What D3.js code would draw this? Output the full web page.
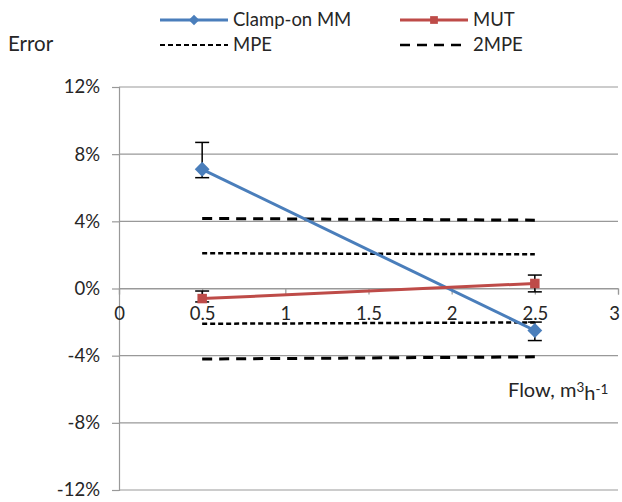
<!DOCTYPE html>
<html><head><meta charset="utf-8">
<script src="https://cdn.jsdelivr.net/npm/d3@7"></script>
<style>
body{margin:0;background:#fff;}
text{font-family:Lato,"Open Sans",sans-serif;fill:#262626;}
</style></head>
<body><svg id="c" width="622" height="502"></svg>
<script>
const flows = [0.5, 2.5];
const clampVals = [0.071, -0.025];
const clampErrUp = [0.016, 0.005];
const clampErrDown = [0.005, 0.006];
const mutVals = [-0.006, 0.003];
const mutErrUp = [0.0045, 0.005];
const mutErrDown = [0.002, 0.005];
const mpeUpper = [0.021, 0.0204];
const mpeLower = [-0.021, -0.0202];
const mpe2Upper = [0.0417, 0.0407];
const mpe2Lower = [-0.042, -0.0407];
const yTicks = [-0.12, -0.08, -0.04, 0, 0.04, 0.08, 0.12];
const yTickLabels = ["-12%", "-8%", "-4%", "0%", "4%", "8%", "12%"];
const xTicks = [0, 0.5, 1, 1.5, 2, 2.5, 3];
const xTickLabels = ["0", "0.5", "1", "1.5", "2", "2.5", "3"];

const svg = d3.select("#c");
const x = d3.scaleLinear().domain([0, 3]).range([119, 618]);
const y = d3.scaleLinear().domain([-0.12, 0.12]).range([490, 87]);
const FS = 18.5;

// gridlines
svg.append("g").selectAll("line").data(yTicks).join("line")
  .attr("x1", x(0)).attr("x2", x(3)).attr("y1", d => y(d)).attr("y2", d => y(d))
  .attr("stroke", "#999").attr("stroke-width", 1.2);

// y axis
const ya = svg.append("g").attr("transform", `translate(${x(0)},0)`)
  .call(d3.axisLeft(y).tickValues(yTicks).tickFormat((d, i) => yTickLabels[i]).tickSize(7).tickPadding(12));
ya.select(".domain").attr("stroke", "#999").attr("stroke-width", 1.2);
ya.selectAll(".tick line").attr("stroke", "#999").attr("stroke-width", 1.2);
ya.selectAll("text").style("font-size", FS + "px").attr("fill", "#262626").style("font-family", "Lato");

// x axis
const xa = svg.append("g").attr("transform", `translate(0,${y(0)})`)
  .call(d3.axisBottom(x).tickValues(xTicks).tickFormat((d, i) => xTickLabels[i]).tickSize(6).tickPadding(12));
xa.select(".domain").attr("stroke", "#999").attr("stroke-width", 1.2);
xa.selectAll(".tick line").attr("stroke", "#999").attr("stroke-width", 1.2);
xa.selectAll("text").style("font-size", FS + "px").attr("fill", "#262626").style("font-family", "Lato")
  .attr("dx", (d, i) => i === xTicks.length - 1 ? -4 : 0);

const line = d3.line().x((d, i) => x(flows[i])).y(d => y(d));

// MPE lines
function dashLine(vals, dash, w) {
  svg.append("path").attr("d", line(vals)).attr("fill", "none")
    .attr("stroke", "#000").attr("stroke-width", w).attr("stroke-dasharray", dash);
}
dashLine(mpeUpper, "5,3", 2.5);
dashLine(mpeLower, "5,3", 2.5);
dashLine(mpe2Upper, "10,7", 3);
dashLine(mpe2Lower, "10,7", 3);

// error bars
function errBars(vals, up, down) {
  const g = svg.append("g").attr("stroke", "#000").attr("stroke-width", 1.5);
  vals.forEach((v, i) => {
    const cx = x(flows[i]);
    g.append("line").attr("x1", cx).attr("x2", cx).attr("y1", y(v + up[i])).attr("y2", y(v - down[i]));
    g.append("line").attr("x1", cx - 7).attr("x2", cx + 7).attr("y1", y(v + up[i])).attr("y2", y(v + up[i]));
    g.append("line").attr("x1", cx - 7).attr("x2", cx + 7).attr("y1", y(v - down[i])).attr("y2", y(v - down[i]));
  });
}
errBars(clampVals, clampErrUp, clampErrDown);
errBars(mutVals, mutErrUp, mutErrDown);

const BLUE = "#4A7EBB", RED = "#BE4B48";
svg.append("path").attr("d", line(clampVals)).attr("fill", "none").attr("stroke", BLUE).attr("stroke-width", 3);
svg.append("path").attr("d", line(mutVals)).attr("fill", "none").attr("stroke", RED).attr("stroke-width", 3);

const diamond = d3.symbol().type(d3.symbolDiamond2).size(140);
const square = d3.symbol().type(d3.symbolSquare).size(90);
svg.append("g").selectAll("path").data(clampVals).join("path")
  .attr("transform", (d, i) => `translate(${x(flows[i])},${y(d)})`).attr("d", diamond).attr("fill", BLUE);
svg.append("g").selectAll("path").data(mutVals).join("path")
  .attr("transform", (d, i) => `translate(${x(flows[i])},${y(d)})`).attr("d", square).attr("fill", RED);

// legend
const lg = svg.append("g");
function legItem(x0, yy, label, color, dash, w, sym) {
  lg.append("line").attr("x1", x0).attr("x2", x0 + 68).attr("y1", yy).attr("y2", yy)
    .attr("stroke", color).attr("stroke-width", w).attr("stroke-dasharray", dash);
  if (sym) lg.append("path").attr("transform", `translate(${x0 + 34},${yy})`).attr("d", sym).attr("fill", color);
  lg.append("text").attr("x", x0 + 73).attr("y", yy).attr("dy", "0.35em").style("font-size", FS + "px").text(label);
}
legItem(160, 20, "Clamp-on MM", BLUE, null, 3, d3.symbol().type(d3.symbolDiamond2).size(70));
legItem(400, 20, "MUT", RED, null, 3, d3.symbol().type(d3.symbolSquare).size(60));
legItem(160, 45, "MPE", "#000", "5,3", 2, null);
legItem(400, 45, "2MPE", "#000", "10,7", 2.5, null);

// titles
svg.append("text").attr("x", 8).attr("y", 44).attr("dy", "0.35em").style("font-size", "20.5px").text("Error");
const ft = svg.append("text").attr("x", 508).attr("y", 390).attr("dy", "0.35em").style("font-size", "20px");
ft.append("tspan").text("Flow, m");
ft.append("tspan").attr("dy", "-0.4em").style("font-size", "13.5px").text("3");
ft.append("tspan").attr("dy", "0.4em").text("h");
ft.append("tspan").attr("dy", "-0.4em").style("font-size", "13.5px").text("-1");
</script></body></html>
